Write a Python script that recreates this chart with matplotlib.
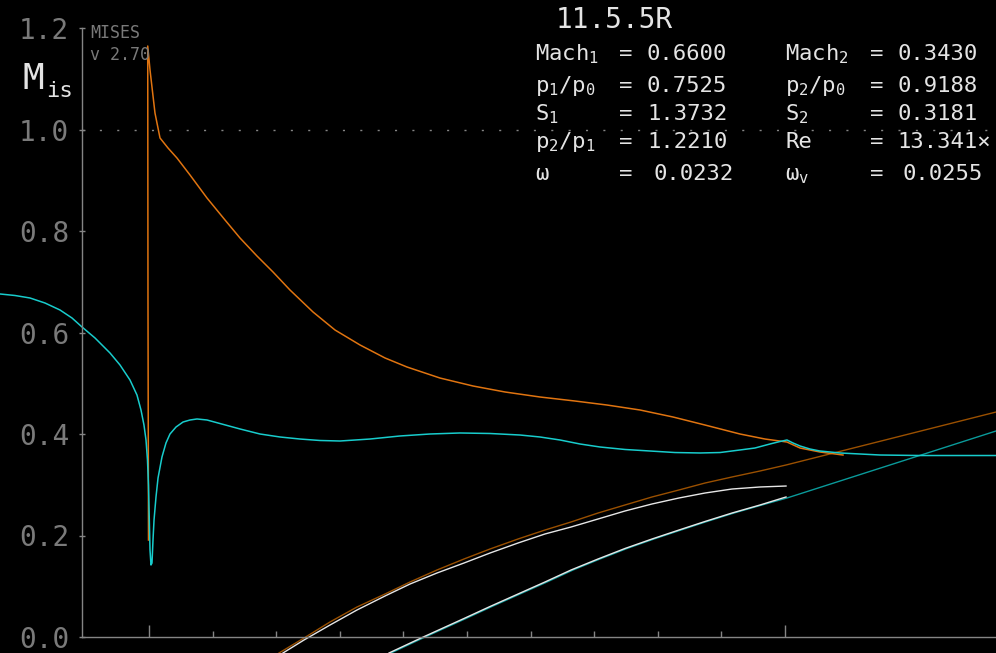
import numpy as np
import matplotlib
matplotlib.use("Agg")
import matplotlib.pyplot as plt

# ---------------- data ----------------
# Isentropic Mach number, surface 1 (cyan)
cyan_x = [-0.2343, -0.2107, -0.1871, -0.1635, -0.1399, -0.1211, -0.1053, -0.0849,
          -0.0613, -0.0456, -0.0299, -0.0189, -0.0126, -0.0079, -0.0047, -0.0024,
          -0.0008, 0.0005, 0.0016, 0.0031, 0.0047, 0.0063, 0.0079, 0.0110, 0.0142,
          0.0204, 0.0267, 0.0330, 0.0425, 0.0535, 0.0645, 0.0755, 0.0912, 0.1085,
          0.1431, 0.1745, 0.2060, 0.2374, 0.2689, 0.3003, 0.3475, 0.3947, 0.4418,
          0.4890, 0.5362, 0.5833, 0.6148, 0.6462, 0.6777, 0.7091, 0.7484, 0.7877,
          0.8270, 0.8664, 0.8978, 0.9292, 0.9528, 0.9764, 0.9921, 1.0031, 1.0126,
          1.0236, 1.0393, 1.0550, 1.0865, 1.1179, 1.1494, 1.2123, 1.3318]
cyan_m = [0.6759, 0.6729, 0.6680, 0.6581, 0.6443, 0.6286, 0.6108, 0.5892,
          0.5596, 0.5360, 0.5064, 0.4768, 0.4473, 0.4177, 0.3882, 0.3488,
          0.2995, 0.2305, 0.1714, 0.1419, 0.1458, 0.1911, 0.2305, 0.2759, 0.3133,
          0.3547, 0.3823, 0.4000, 0.4138, 0.4236, 0.4276, 0.4296, 0.4276, 0.4217,
          0.4099, 0.4000, 0.3941, 0.3901, 0.3872, 0.3862, 0.3901, 0.3961, 0.4000,
          0.4020, 0.4010, 0.3980, 0.3941, 0.3882, 0.3803, 0.3744, 0.3695, 0.3665,
          0.3635, 0.3626, 0.3635, 0.3685, 0.3724, 0.3803, 0.3852, 0.3882, 0.3823,
          0.3764, 0.3704, 0.3665, 0.3626, 0.3606, 0.3586, 0.3576, 0.3576]

# Isentropic Mach number, surface 2 (orange)
orange_x = [-0.0008, -0.0016, -0.0020, 0.0016, 0.0094, 0.0173, 0.0299, 0.0440,
            0.0645, 0.0912, 0.1195, 0.1431, 0.1698, 0.1950, 0.2217, 0.2579, 0.2925,
            0.3318, 0.3711, 0.4057, 0.4575, 0.5094, 0.5597, 0.6148, 0.6698, 0.7201,
            0.7720, 0.8239, 0.8742, 0.9292, 0.9686, 1.0031, 1.0236, 1.0550, 1.0912]
orange_m = [0.1911, 0.6640, 1.1645, 1.1172, 1.0325, 0.9833, 0.9635, 0.9438,
            0.9103, 0.8650, 0.8217, 0.7862, 0.7507, 0.7192, 0.6837, 0.6404, 0.6049,
            0.5754, 0.5498, 0.5320, 0.5103, 0.4946, 0.4828, 0.4729, 0.4650, 0.4571,
            0.4473, 0.4335, 0.4177, 0.4000, 0.3901, 0.3842, 0.3724, 0.3645, 0.3586]

# Blade geometry overlay
geo_or_x = [0.2044, 0.2437, 0.2846, 0.3270, 0.3711, 0.4104, 0.4528, 0.4953, 0.5362,
            0.5802, 0.6226, 0.6635, 0.7060, 0.7484, 0.7909, 0.8333, 0.8742, 0.9167,
            0.9607, 1.0016, 1.3318]
geo_or_y = [-0.0315, -0.0020, 0.0296, 0.0591, 0.0847, 0.1084, 0.1320, 0.1537, 0.1734,
            0.1931, 0.2108, 0.2266, 0.2443, 0.2601, 0.2759, 0.2897, 0.3034, 0.3153,
            0.3271, 0.3389, 0.4433]

geo_wu_x = [0.2107, 0.2437, 0.2846, 0.3270, 0.3711, 0.4104, 0.4528, 0.4953, 0.5362,
            0.5802, 0.6226, 0.6635, 0.7060, 0.7484, 0.7909, 0.8333, 0.8742, 0.9167,
            0.9607, 1.0016]
geo_wu_y = [-0.0315, -0.0059, 0.0236, 0.0532, 0.0808, 0.1044, 0.1261, 0.1458, 0.1655,
            0.1852, 0.2030, 0.2167, 0.2325, 0.2483, 0.2621, 0.2739, 0.2837, 0.2916,
            0.2956, 0.2975]

geo_wl_x = [0.3774, 0.4277, 0.4623, 0.4953, 0.5362, 0.5802, 0.6226, 0.6635, 0.7060,
            0.7484, 0.7909, 0.8333, 0.8742, 0.9167, 0.9607, 1.0016]
geo_wl_y = [-0.0315, -0.0020, 0.0177, 0.0365, 0.0601, 0.0847, 0.1084, 0.1320, 0.1537,
            0.1744, 0.1931, 0.2108, 0.2276, 0.2443, 0.2601, 0.2759]

geo_cy_x = [0.3805, 0.4308, 0.4653, 0.4984, 0.5393, 0.5833, 0.6258, 0.6667, 0.7091,
            0.7516, 0.7940, 0.8365, 0.8774, 0.9198, 0.9638, 1.0031, 1.3318]
geo_cy_y = [-0.0315, -0.0020, 0.0177, 0.0365, 0.0601, 0.0847, 0.1084, 0.1320, 0.1537,
            0.1744, 0.1931, 0.2108, 0.2276, 0.2443, 0.2601, 0.2739, 0.4059]

y_ticks = [0.0, 0.2, 0.4, 0.6, 0.8, 1.0, 1.2]
y_tick_labels = ["0.0", "0.2", "0.4", "0.6", "0.8", "1.0", "1.2"]

title = "11.5.5R"
col1_labels = ["Mach$_1$", "p$_1$/p$_0$", "S$_1$", "p$_2$/p$_1$", "ω"]
col1_values = ["0.6600", "0.7525", "1.3732", "1.2210", "0.0232"]
col2_labels = ["Mach$_2$", "p$_2$/p$_0$", "S$_2$", "Re", "ω$_\\mathrm{v}$"]
col2_values = ["0.3430", "0.9188", "0.3181", "13.341×", "0.0255"]

# ---------------- figure ----------------
W, H = 996, 653
plt.rcParams['mathtext.fontset'] = 'custom'
plt.rcParams['mathtext.rm'] = 'DejaVu Sans Mono'
plt.rcParams['mathtext.it'] = 'DejaVu Sans Mono'
plt.rcParams['mathtext.default'] = 'rm'
MONO = 'DejaVu Sans Mono'

fig = plt.figure(figsize=(W / 100, H / 100), dpi=100)
fig.patch.set_facecolor('black')
ax = fig.add_axes([0, 0, 1, 1])
ax.set_facecolor('black')

x0 = (0 - 149) / 636
x1 = (W - 149) / 636
yb = (637 - H) / 507.5
yt = 637 / 507.5
ax.set_xlim(x0, x1)
ax.set_ylim(yb, yt)

GRAY = '#858585'
TICKGRAY = '#7a7a7a'
yaxis_x = (82 - 149) / 636

for s in ['top', 'right']:
    ax.spines[s].set_visible(False)
ax.spines['left'].set_position(('data', yaxis_x))
ax.spines['left'].set_bounds(0, 1.2)
ax.spines['bottom'].set_position(('data', 0))
ax.spines['bottom'].set_bounds(yaxis_x, x1)
for s in ['left', 'bottom']:
    ax.spines[s].set_color(GRAY)
    ax.spines[s].set_linewidth(1.0)

ax.set_yticks(y_ticks)
ax.set_yticklabels(y_tick_labels, family=MONO, fontsize=20, color=TICKGRAY)
ax.tick_params(axis='y', direction='inout', length=4.5, width=1, color=GRAY, pad=7)
ax.set_xticks([0, 1])
ax.set_xticks(np.arange(1, 10) / 10, minor=True)
ax.tick_params(axis='x', which='major', direction='in', length=8.5, width=1,
               color=GRAY, labelbottom=False)
ax.tick_params(axis='x', which='minor', direction='in', length=4.3, width=1,
               color=GRAY, labelbottom=False)

# dotted M=1 reference line
ax.hlines(1.0, yaxis_x, x1, colors=GRAY, linewidth=1.0, linestyles=(0, (1.5, 11)))

# geometry
ax.plot(geo_or_x, geo_or_y, color='#9a5000', lw=1.0)
ax.plot(geo_cy_x, geo_cy_y, color='#0a9a9a', lw=1.0)
ax.plot(geo_wu_x, geo_wu_y, color='#e6e6e6', lw=1.0)
ax.plot(geo_wl_x, geo_wl_y, color='#e6e6e6', lw=1.0)

# Mis curves
ax.plot(orange_x, orange_m, color='#e07410', lw=1.1)
ax.plot(cyan_x, cyan_m, color='#18cccc', lw=1.1)


def ftxt(px, py, s, **kw):
    fig.text(px / W, 1 - py / H, s, **kw)


WHITE = '#e4e4e4'
ftxt(22, 89, "M", family=MONO, fontsize=26, color=WHITE, va='baseline', ha='left')
ftxt(46, 97, "is", family=MONO, fontsize=16, color=WHITE, va='baseline', ha='left')
ftxt(90, 38, "MISES", family=MONO, fontsize=12, color=TICKGRAY, va='baseline', ha='left')
ftxt(90, 60, "v 2.70", family=MONO, fontsize=12, color=TICKGRAY, va='baseline', ha='left')

ftxt(556, 28, title, family=MONO, fontsize=20, color=WHITE, va='baseline', ha='left')

baselines = [60, 92, 120, 148, 180]
for i in range(5):
    yb_ = baselines[i]
    ftxt(535, yb_, col1_labels[i], family=MONO, fontsize=16, color=WHITE, va='baseline')
    ftxt(619, yb_, "=", family=MONO, fontsize=16, color=WHITE, va='baseline')
    ftxt(653 if i == 4 else 647, yb_, col1_values[i], family=MONO, fontsize=16,
         color=WHITE, va='baseline')
    ftxt(785, yb_, col2_labels[i], family=MONO, fontsize=16, color=WHITE, va='baseline')
    ftxt(870, yb_, "=", family=MONO, fontsize=16, color=WHITE, va='baseline')
    ftxt(902 if i == 4 else 897, yb_, col2_values[i], family=MONO, fontsize=16,
         color=WHITE, va='baseline')

fig.savefig("out.png", dpi=100, facecolor='black')
